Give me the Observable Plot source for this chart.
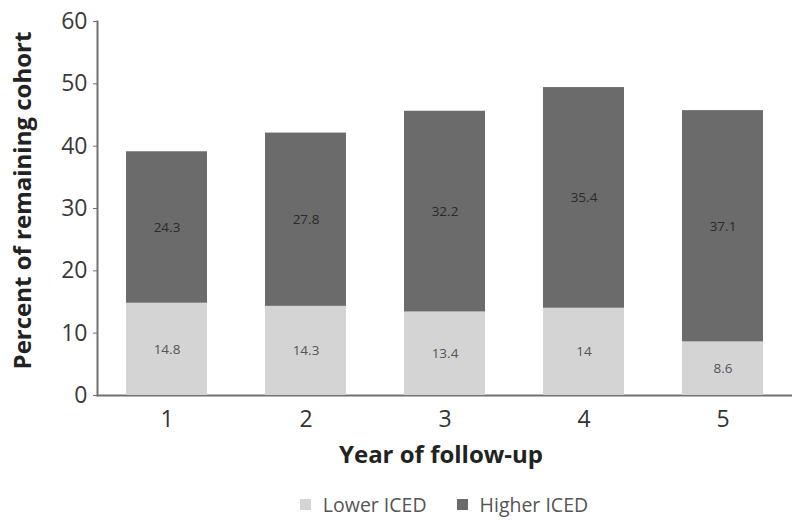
<!DOCTYPE html>
<html>
<head>
<meta charset="utf-8">
<script src="https://cdn.jsdelivr.net/npm/d3@7"></script>
<script src="https://cdn.jsdelivr.net/npm/@observablehq/plot@0.6"></script>
<style>
  body { margin: 0; background: #fff; font-family: "Open Sans", sans-serif; }
  #chart { width: 800px; }
  .legend { display: flex; justify-content: center; align-items: center; gap: 30px; height: 48px; padding-left: 88px; box-sizing: border-box; font-size: 19.5px; color: #555; }
  .legend span.sw { display: inline-block; width: 11px; height: 11px; margin-right: 12px; }
  .legend div { display: flex; align-items: center; }
</style>
</head>
<body>
<div id="chart"></div>
<script>
const years = ["1", "2", "3", "4", "5"];
const lowerICED = [14.8, 14.3, 13.4, 14, 8.6];
const higherICED = [24.3, 27.8, 32.2, 35.4, 37.1];
const seriesNames = ["Lower ICED", "Higher ICED"];
const seriesColors = ["#d4d4d4", "#6b6b6b"];
const yTicks = [0, 10, 20, 30, 40, 50, 60];

const data = [];
years.forEach((yr, i) => {
  data.push({year: yr, group: seriesNames[0], value: lowerICED[i]});
  data.push({year: yr, group: seriesNames[1], value: higherICED[i]});
});

const chart = Plot.plot({
  width: 800,
  height: 480,
  marginLeft: 97,
  marginRight: 8,
  marginTop: 21,
  marginBottom: 85,
  style: {fontFamily: "'Open Sans', sans-serif", background: "#fff"},
  x: {domain: years, paddingInner: 0.42, paddingOuter: 0.21, label: null},
  y: {domain: [0, 60], label: null},
  color: {domain: seriesNames, range: seriesColors},
  marks: [
    Plot.ruleY([0], {stroke: "#707070", strokeWidth: 2}),
    Plot.frame({anchor: "left", stroke: "#707070", strokeWidth: 2}),
    Plot.barY(data, Plot.stackY({x: "year", y: "value", z: "group", fill: "group", order: seriesNames})),
    Plot.text(data, Plot.stackY({
      x: "year", y: "value", z: "group", order: seriesNames,
      text: d => String(d.value),
      fontSize: 13.5,
      fill: d => d.group === seriesNames[0] ? "#555" : "#2a2a2a"
    })),
    Plot.axisY({ticks: yTicks, tickSize: 4, tickPadding: 6, fontSize: 23, label: null, color: "#3a3a3a", stroke: "#707070"}),
    Plot.axisX({tickSize: 0, tickPadding: 15, fontSize: 23, label: null, color: "#333"}),
    Plot.text(["Percent of remaining cohort"], {frameAnchor: "left", textAnchor: "middle", rotate: -90, dx: -74, dy: -8, fontSize: 24, fontWeight: "bold", fill: "#222"}),
    Plot.text(["Year of follow-up"], {frameAnchor: "bottom", textAnchor: "middle", dx: -4, dy: 67, fontSize: 24, fontWeight: "bold", fill: "#222"})
  ]
});

document.getElementById("chart").appendChild(chart);

const legend = document.createElement("div");
legend.className = "legend";
seriesNames.forEach((n, i) => {
  const item = document.createElement("div");
  const sw = document.createElement("span");
  sw.className = "sw";
  sw.style.background = seriesColors[i];
  item.appendChild(sw);
  item.appendChild(document.createTextNode(n));
  legend.appendChild(item);
});
document.getElementById("chart").appendChild(legend);
</script>
</body>
</html>
